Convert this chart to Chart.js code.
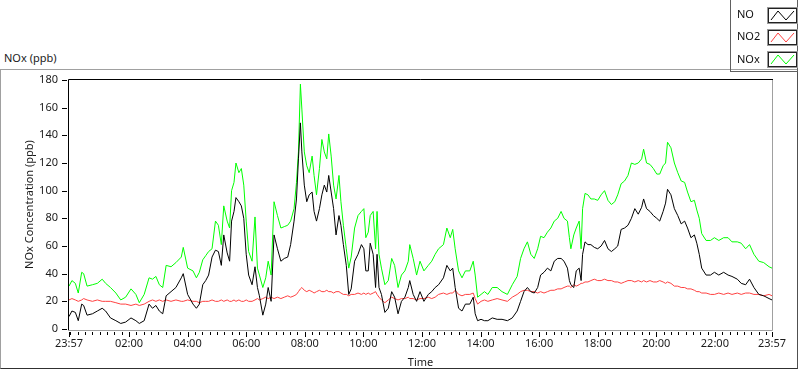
<!DOCTYPE html>
<html>
<head>
  <title>NOx (ppb)</title>
  <script src="https://cdn.jsdelivr.net/npm/chart.js"></script>
  <style>
    body { margin: 0; background: #fff; font-family: "Noto Sans", sans-serif; }
    #wrap { position: relative; width: 800px; height: 369px; overflow: hidden; }
    #frame { position: absolute; left: 0; top: 69px; width: 796px; height: 298px;
             border: 1px solid #a0a0a0; border-right-color: #505050; border-bottom-color: #303030; }
    #chart { position: absolute; left: 0; top: 0; }
    #panelTitle { position: absolute; left: 4px; top: 50px; font-size: 11px; color: #1a1a1a; }
    #legend { position: absolute; left: 730px; top: 0; width: 66px; height: 71px;
              border: 1px solid #606060; border-top: none; }
    .item { position: absolute; left: 6px; font-size: 11px; color: #111; }
    .sw { position: absolute; left: 37px; width: 27px; height: 13px; border: 1px solid #222;
          box-shadow: 0 0 0 1px #999; background: #fff; }
    .sw svg { display: block; }
  </style>
</head>
<body>
<div id="wrap">
  <div id="frame"></div>
  <div id="panelTitle">NOx (ppb)</div>
  <canvas id="chart" width="800" height="369"></canvas>
  <div id="legend">
    <span class="item" style="top:6px">NO</span>
    <div class="sw" style="top:8px"><svg width="27" height="13"><polyline points="2,11 9,2 17,11 25,2" fill="none" stroke="#000" stroke-width="1"/></svg></div>
    <span class="item" style="top:28px">NO2</span>
    <div class="sw" style="top:30px"><svg width="27" height="13"><polyline points="2,11 9,2 17,11 25,2" fill="none" stroke="#ff4040" stroke-width="1"/></svg></div>
    <span class="item" style="top:51px">NOx</span>
    <div class="sw" style="top:52px"><svg width="27" height="13"><polyline points="2,11 9,2 17,11 25,2" fill="none" stroke="#00ff00" stroke-width="1"/></svg></div>
  </div>
</div>
<script>
  // minutes after 23:57 of the previous day
  const times = [
    0,6,13,19,26,30,37,48,58,68,75,85,96,106,116,127,137,144,154,164,171,178,185,192,199,209,219,230,234,243,254,261,267,274,280,
    286,293,300,306,312,317,324,329,333,338,342,348,353,358,363,368,375,381,386,390,397,403,408,414,420,427,434,441,448,454,
    461,466,470,474,477,482,487,492,498,502,507,513,518,523,528,532,537,542,547,553,557,562,568,573,578,
    585,592,599,604,608,613,617,623,628,631,635,640,647,654,661,667,674,681,688,695,698,705,712,719,727,736,743,750,757,767,
    774,781,786,791,798,805,812,821,828,832,837,844,851,
    858,867,877,887,898,908,918,925,932,939,946,953,960,966,973,980,987,994,1001,1008,1014,1021,1025,1028,1034,1039,1045,1049,1052,1057,
    1063,1069,1076,1083,1090,1097,1104,1111,1118,1124,1131,1138,1145,
    1152,1159,1166,1173,1177,1183,1190,1197,1204,1210,1217,1222,1226,1233,1240,1247,1254,1261,1267,1274,
    1281,1286,1291,1296,1305,1314,1322,1331,1341,1350,1358,1369,1377,1386,1394,1403,1413,1423,1434,1440
  ];
  const noValues = [
    9,13,12,6,18,17,10,11,13,15,13,8,6,4,5,8,6,4,6,18,15,17,13,11,24,27,30,37,40,25,18,15,18,32,35,
    39,52,57,56,46,68,55,49,78,85,95,92,89,80,54,39,32,45,30,24,10,18,30,20,68,58,49,51,52,61,
    78,94,123,149,128,104,92,97,99,85,78,87,97,104,99,111,99,87,68,82,75,61,46,25,29,
    49,54,61,58,42,42,62,54,30,54,30,25,12,15,27,23,11,20,23,30,35,25,20,27,20,25,27,30,32,37,
    46,42,44,30,15,13,18,18,23,11,6,7,6,
    6,8,7,7,6,8,13,20,27,30,27,26,30,39,41,44,42,49,51,51,49,44,35,32,30,42,44,35,54,63,
    61,61,59,58,60,64,58,56,58,60,72,73,75,
    80,87,83,88,94,87,85,82,80,78,85,91,101,97,87,82,76,78,73,66,
    68,62,54,44,39,39,41,39,41,39,38,36,33,32,36,30,25,24,22,21
  ];
  const no2Values = [
    21,22,21,20,21,22,21,20,21,20,20,20,19,18,18,17,18,17,18,20,21,20,21,20,21,20,21,20,20,21,20,20,19,20,20,
    20,21,20,20,21,20,21,20,20,21,20,21,20,20,21,20,20,21,22,21,22,23,22,23,22,23,22,23,24,23,
    24,25,27,29,30,28,27,28,27,26,27,28,27,27,28,27,27,26,27,27,26,25,25,24,25,
    25,26,25,26,25,26,25,26,27,25,23,21,19,21,23,22,21,22,22,23,22,22,21,22,22,23,22,23,25,26,
    25,26,26,28,25,24,25,25,26,22,18,20,21,
    20,21,22,21,20,23,25,27,28,28,27,27,26,27,26,27,28,28,29,29,30,31,31,30,32,31,32,33,33,34,
    34,35,36,35,35,36,35,35,34,34,33,34,35,
    35,34,35,34,35,34,35,34,34,35,34,33,34,33,31,31,30,30,29,29,
    28,27,27,26,26,25,25,26,25,26,25,26,25,26,26,25,25,24,25,24
  ];
  const noxValues = [
    31,35,33,26,41,40,31,32,33,36,33,30,26,21,23,29,25,19,25,37,36,38,32,30,46,45,48,52,59,44,42,37,41,50,53,
    56,58,78,75,61,89,78,73,100,106,120,113,116,104,78,56,49,81,44,39,30,37,49,39,92,82,73,74,75,78,
    87,106,128,177,159,128,118,113,125,111,97,116,137,128,123,141,125,104,94,111,92,75,58,44,52,
    73,82,85,87,66,70,82,85,58,85,54,44,32,35,51,46,30,39,42,49,61,51,39,49,42,46,49,54,58,61,
    73,66,72,58,42,37,42,42,49,39,23,25,27,
    25,30,30,27,25,32,38,51,58,63,54,51,58,67,66,70,73,78,80,85,80,78,66,58,68,73,78,58,87,98,
    97,94,94,93,97,100,93,90,92,97,105,107,111,
    120,119,120,123,130,120,119,116,112,112,118,120,135,131,120,113,107,106,99,92,
    93,86,80,69,64,64,66,64,66,66,63,63,62,58,61,54,49,48,45,44
  ];
  const tickMinutes = [0,123,243,363,483,603,723,843,963,1083,1203,1323,1440];
  const tickLabels = ['23:57','02:00','04:00','06:00','08:00','10:00','12:00','14:00','16:00','18:00','20:00','22:00','23:57'];
  const yTicks = [0,20,40,60,80,100,120,140,160,180];

  function pts(vals) {
    return times.map((t, i) => ({x: t, y: vals[i]}));
  }

  // sunken plot border plus the small tick marks
  const axisMarks = {
    id: 'axisMarks',
    afterDraw(chart) {
      const ctx = chart.ctx, a = chart.chartArea;
      const xs = chart.scales.x, ys = chart.scales.y;
      ctx.save();
      ctx.lineWidth = 1;
      ctx.strokeStyle = '#000';
      ctx.beginPath();
      ctx.moveTo(a.left - 0.5, a.bottom + 1);
      ctx.lineTo(a.left - 0.5, a.top - 0.5);
      ctx.lineTo(a.right + 1, a.top - 0.5);
      ctx.stroke();
      ctx.strokeStyle = '#a0a0a0';
      ctx.beginPath();
      ctx.moveTo(a.left - 1, a.bottom + 1.5);
      ctx.lineTo(a.right + 0.5, a.bottom + 1.5);
      ctx.lineTo(a.right + 0.5, a.top);
      ctx.stroke();

      ctx.strokeStyle = '#000';
      ctx.beginPath();
      yTicks.forEach(v => {
        const y = Math.round(ys.getPixelForValue(v)) + 0.5;
        ctx.moveTo(a.left - 7, y);
        ctx.lineTo(a.left - 2, y);
      });
      const xt = [0];
      for (let m = 3; m <= 1440; m += 15) xt.push(m);
      xt.push(1440);
      xt.forEach(m => {
        const x = Math.round(xs.getPixelForValue(m)) + 0.5;
        const len = tickMinutes.includes(m) ? 5 : 3;
        ctx.moveTo(x, a.bottom + 3);
        ctx.lineTo(x, a.bottom + 3 + len);
      });
      ctx.stroke();
      ctx.restore();
    }
  };

  const textColor = '#1a1a1a';
  const font = {family: '"Noto Sans", sans-serif', size: 11};

  new Chart(document.getElementById('chart'), {
    type: 'line',
    data: {
      datasets: [
        {label: 'NO', data: pts(noValues), borderColor: '#000000', borderWidth: 1, pointRadius: 0, tension: 0},
        {label: 'NO2', data: pts(no2Values), borderColor: '#ff4040', borderWidth: 1, pointRadius: 0, tension: 0},
        {label: 'NOx', data: pts(noxValues), borderColor: '#00ff00', borderWidth: 1, pointRadius: 0, tension: 0}
      ]
    },
    options: {
      responsive: false,
      animation: false,
      devicePixelRatio: 1,
      layout: {padding: {left: 0, top: 80, right: 28, bottom: 0}},
      plugins: {legend: {display: false}, tooltip: {enabled: false}},
      scales: {
        x: {
          type: 'linear', min: 0, max: 1440,
          afterFit: s => { s.height = 40; },
          afterBuildTicks: s => { s.ticks = tickMinutes.map(v => ({value: v})); },
          grid: {display: false, drawTicks: false},
          border: {display: false},
          ticks: {
            autoSkip: false, maxRotation: 0, padding: 8, color: textColor, font: font,
            callback: v => tickLabels[tickMinutes.indexOf(v)]
          },
          title: {display: true, text: 'Time', color: textColor, font: font, padding: {top: 0, bottom: 0}}
        },
        y: {
          min: 0, max: 180,
          afterFit: s => { s.width = 69; },
          grid: {display: false, drawTicks: false},
          border: {display: false},
          ticks: {stepSize: 20, padding: 11, color: textColor, font: font},
          title: {display: true, text: 'NOx Concentration (ppb)', color: textColor, font: font, padding: {top: 23, bottom: 0}}
        }
      }
    },
    plugins: [axisMarks]
  });
</script>
</body>
</html>
